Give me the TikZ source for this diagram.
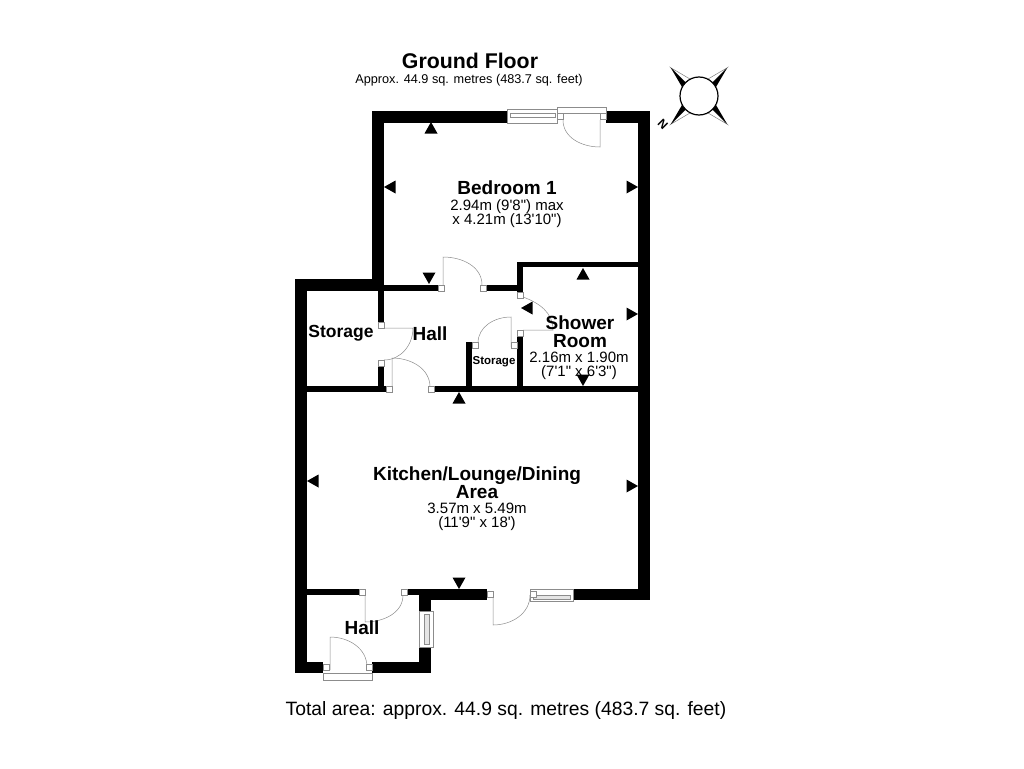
\documentclass[tikz,border=0pt]{standalone}
\usepackage{fontspec}
\setmainfont{Liberation Sans}[Ligatures=TeXOff]
\tikzset{
    wall/.style={fill=black},
    thing/.style={draw=black!45,line width=0.5pt},
    jamb/.style={draw=black!45,line width=0.5pt,fill=white},
    marker/.style={fill=black},
    roomname/.style={align=center,inner sep=0pt,font=\fontsize{19}{18}\selectfont\bfseries},
    roomsize/.style={align=center,inner sep=0pt,font=\fontsize{15}{14}\selectfont}
}

\begin{document}
\begin{tikzpicture}[x=1pt,y=-1pt]
    \useasboundingbox (0,0) rectangle (1024,768);
    % walls
    \foreach \xa/\ya/\xb/\yb in {372/111/507/123,606/111/650/123,638/111/650/600,372/111/384/291,
        295/279/384/291,295/279/307/673,384/285/438/291,486/285/523/291,517/262/638/267,517/262/523/292,
        517/336/523/392,466/342/472/392,307/386/386/392,434/386/650/392,378/291/384/322,378/366/384/392,
        307/589/359/595,407/589/431/595,419/589/431/611,431/589/487/600,573/589/650/600,
        419/647/431/673,295/662/323/673,372/662/431/673}
        \fill[wall] (\xa,\ya) rectangle (\xb,\yb);
    % windows
    \draw[thing,fill=white] (507,109) rectangle (557,123);
    \draw[thing] (510,113) rectangle (555,117);
    \draw[thing,fill=white] (419,611) rectangle (433,647);
    \draw[thing,fill=black!10] (424,614) rectangle (429,644);
    \draw[thing,fill=white] (530,589) rectangle (573,601);
    \draw[thing,fill=black!10] (533,595) rectangle (570,599);
    % door frames
    \draw[thing,fill=white] (557,107) rectangle (606,113);
    \draw[thing,fill=white] (323,673) rectangle (372,680);
    % doors
    \draw[thing] (600,120) -- (600,147) to[out=180,in=-90] (563,120);
    \draw[thing] (443,285) -- (443,257) to[out=0,in=90] (482,285);
    \draw[thing] (384,328) -- (413,328) to[out=-90,in=0] (384,360);
    \draw[thing] (392,392) -- (392,358) to[out=0,in=90] (430,387);
    \draw[thing] (523,330) -- (553,330) to[out=90,in=-20] (523,297);
    \draw[thing] (511,347) -- (511,317) to[out=180,in=90] (478,343);
    \draw[thing] (365,595) -- (365,622) to[out=0,in=-90] (403,595);
    \draw[thing] (330,670) -- (330,637) to[out=0,in=90] (367,667);
    \draw[thing] (493,597) -- (493,625) to[out=0,in=-90] (530,595);
    % door jambs
    \foreach \xa/\ya in {557/113,600/113,438/285,480/285,517/292,517/330,472/342,511/342,
        378/322,378/360,386/386,428/386,359/589,401/589,323/664,366/664,487/591,530/591}
        \draw[jamb] (\xa,\ya) rectangle +(6,6);
    % little triangles on the walls
    \foreach \xa/\ya/\turn in {431/128/0,390/187/90,632/187/-90,429/278/180,527/308/90,583/274/0,
        632/314/-90,583/380/180,459/398/0,313/481/90,632/486/-90,459/583/180}
        \fill[marker,shift={(\xa,\ya)},rotate=\turn] (-6.5,5.5) -- (6.5,5.5) -- (0,-6) -- cycle;
    % compass
    \foreach \turn/\side in {45/1,135/-1,225/1,315/-1} {
        \draw[black!50,line width=0.5pt,fill=white,shift={(699,96)},rotate=\turn] (17,-6*\side) -- (40,0) -- (17,0);
        \fill[black,shift={(699,96)},rotate=\turn] (17,6*\side) -- (40,0) -- (17,0) -- cycle;
    }
    \node[draw=black,line width=1.2pt,fill=white,circle,minimum size=38pt,inner sep=0pt] (compass) at (699,96) {};
    \node[rotate=135,inner sep=0pt,font=\fontsize{12}{12}\selectfont\bfseries] (north) at (663,124) {N};
    % labels
    \node[inner sep=0pt,font=\fontsize{21.3}{22}\selectfont\bfseries] (floortitle) at (470,61) {Ground Floor};
    \node[inner sep=0pt,font=\fontsize{12.7}{14}\selectfont] (floorarea) at (469,80) {Approx. 44.9 sq. metres (483.7 sq. feet)};
    \node[roomname] (bedroom) at (507,188) {Bedroom 1};
    \node[roomsize,below=0pt] (bedroomsize) at (507,199) {2.94m (9'8") max\\x 4.21m (13'10")};
    \node[roomname,font=\fontsize{17.5}{18}\selectfont\bfseries] (storagea) at (341,333) {Storage};
    \node[roomname] (halla) at (430,334) {Hall};
    \node[roomname,font=\fontsize{11.5}{12}\selectfont\bfseries] (storageb) at (494,362) {Storage};
    \node[roomname] (shower) at (580,332) {Shower\\Room};
    \node[roomsize,below=0pt] (showersize) at (579,352) {2.16m x 1.90m\\(7'1" x 6'3")};
    \node[roomname] (kitchen) at (477,483) {Kitchen/Lounge/Dining\\Area};
    \node[roomsize,below=0pt] (kitchensize) at (477,503) {3.57m x 5.49m\\(11'9" x 18')};
    \node[roomname] (hallb) at (362,628) {Hall};
    \node[inner sep=0pt,font=\fontsize{19.3}{21}\selectfont] (totalarea) at (506,710) {Total area: approx. 44.9 sq. metres (483.7 sq. feet)};
\end{tikzpicture}
\end{document}
